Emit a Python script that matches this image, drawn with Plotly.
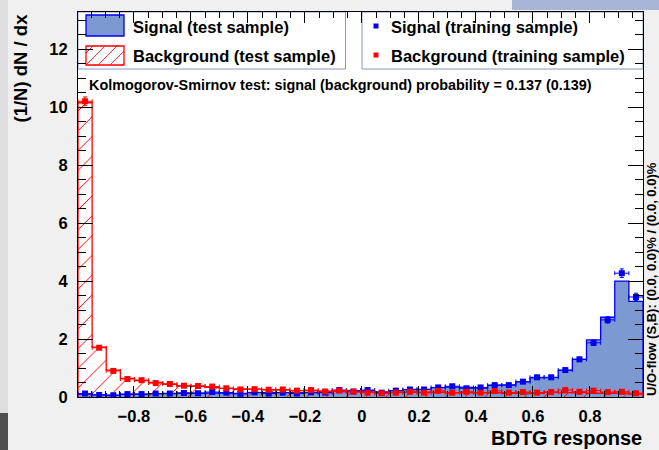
import numpy as np
import plotly.graph_objects as go

# ---------------- data ----------------
x_min, x_max, n_bins = -0.996, 0.986, 40

sig_test = [0.10, 0.07, 0.06, 0.09, 0.10, 0.11, 0.12, 0.13, 0.13, 0.15,
            0.14, 0.12, 0.15, 0.13, 0.14, 0.13, 0.15, 0.16, 0.21, 0.20,
            0.22, 0.18, 0.22, 0.25, 0.27, 0.32, 0.35, 0.33, 0.31, 0.40,
            0.42, 0.52, 0.66, 0.68, 0.92, 1.30, 1.97, 2.75, 4.00, 3.30]
sig_train = [0.12, 0.07, 0.06, 0.10, 0.10, 0.12, 0.12, 0.14, 0.13, 0.17,
             0.15, 0.11, 0.16, 0.12, 0.15, 0.12, 0.16, 0.15, 0.24, 0.19,
             0.24, 0.15, 0.22, 0.26, 0.26, 0.33, 0.37, 0.30, 0.33, 0.41,
             0.41, 0.53, 0.68, 0.68, 0.93, 1.30, 1.87, 2.66, 4.27, 3.45]
sig_train_err = [0.02, 0.02, 0.02, 0.02, 0.02, 0.02, 0.02, 0.02, 0.02, 0.02,
                 0.02, 0.02, 0.02, 0.02, 0.02, 0.02, 0.02, 0.02, 0.03, 0.03,
                 0.03, 0.03, 0.03, 0.03, 0.03, 0.03, 0.03, 0.03, 0.03, 0.04,
                 0.04, 0.04, 0.05, 0.05, 0.06, 0.07, 0.09, 0.11, 0.15, 0.13]

bkg_test = [10.15, 1.72, 0.93, 0.64, 0.57, 0.50, 0.44, 0.38, 0.37, 0.33,
            0.30, 0.28, 0.27, 0.25, 0.24, 0.22, 0.22, 0.20, 0.19, 0.18,
            0.17, 0.16, 0.17, 0.16, 0.15, 0.17, 0.14, 0.16, 0.14, 0.15,
            0.13, 0.15, 0.13, 0.17, 0.14, 0.16, 0.13, 0.15, 0.13, 0.10]
bkg_train = [10.20, 1.70, 0.90, 0.62, 0.58, 0.48, 0.45, 0.39, 0.38, 0.36,
             0.30, 0.26, 0.27, 0.25, 0.26, 0.22, 0.24, 0.19, 0.22, 0.18,
             0.15, 0.13, 0.15, 0.18, 0.15, 0.21, 0.15, 0.18, 0.15, 0.21,
             0.15, 0.17, 0.15, 0.17, 0.24, 0.18, 0.22, 0.17, 0.18, 0.13]
bkg_train_err = [0.15, 0.06, 0.04, 0.03, 0.03, 0.03, 0.03, 0.03, 0.03, 0.03,
                 0.02, 0.02, 0.02, 0.02, 0.02, 0.02, 0.02, 0.02, 0.02, 0.02,
                 0.02, 0.02, 0.02, 0.02, 0.02, 0.02, 0.02, 0.02, 0.02, 0.02,
                 0.02, 0.02, 0.02, 0.02, 0.02, 0.02, 0.02, 0.02, 0.02, 0.02]

x_ticks = [-0.8, -0.6, -0.4, -0.2, 0, 0.2, 0.4, 0.6, 0.8]
y_ticks = [0, 2, 4, 6, 8, 10, 12]

ks_text = "Kolmogorov-Smirnov test: signal (background) probability = 0.137 (0.139)"
uoflow_text = "U/O-flow (S,B): (0.0, 0.0)% / (0.0, 0.0)%"
legend_left = ["Signal (test sample)", "Background (test sample)"]
legend_right = ["Signal (training sample)", "Background (training sample)"]

# ---------------- geometry ----------------
W, H = 659, 450
L, R, T, B = 78, 643, 12, 397
edges = np.linspace(x_min, x_max, n_bins + 1)
centers = 0.5 * (edges[:-1] + edges[1:])
bw = edges[1] - edges[0]

def px(xp):
    return (xp - L) / (R - L)

def py(yp):
    return (B - yp) / (B - T)

def step_xy(vals):
    xs, ys = [edges[0]], [0]
    for i, v in enumerate(vals):
        xs += [edges[i], edges[i + 1]]
        ys += [v, v]
    xs.append(edges[-1]); ys.append(0)
    return xs, ys

BLUE = "#0000ee"
SIGFILL = "#7d99d1"
RED = "#ff0000"
FONT = "Liberation Sans"

fig = go.Figure()

# signal test filled histogram
fig.add_trace(go.Bar(x=centers, y=sig_test, width=bw,
                     marker=dict(color=SIGFILL, line=dict(width=0)),
                     showlegend=False, hoverinfo="skip"))
sx, sy = step_xy(sig_test)
fig.add_trace(go.Scatter(x=sx, y=sy, mode="lines", line=dict(color=BLUE, width=1.3),
                         showlegend=False, hoverinfo="skip"))
# background test hatched histogram
fig.add_trace(go.Bar(x=centers, y=bkg_test, width=bw,
                     marker=dict(color="rgba(0,0,0,0)", line=dict(width=0),
                                 pattern=dict(shape="/", fgcolor=RED, bgcolor="rgba(0,0,0,0)",
                                              size=14, solidity=0.07, fillmode="replace")),
                     showlegend=False, hoverinfo="skip"))
bx, by = step_xy(bkg_test)
fig.add_trace(go.Scatter(x=bx, y=by, mode="lines", line=dict(color=RED, width=1.3),
                         showlegend=False, hoverinfo="skip"))
# training points
fig.add_trace(go.Scatter(x=centers, y=sig_train, mode="markers",
                         marker=dict(symbol="square", size=6, color=BLUE),
                         error_y=dict(type="data", array=sig_train_err, color=BLUE, thickness=1, width=2),
                         error_x=dict(type="constant", value=bw / 2, color=BLUE, thickness=1, width=2),
                         showlegend=False, hoverinfo="skip"))
fig.add_trace(go.Scatter(x=centers, y=bkg_train, mode="markers",
                         marker=dict(symbol="square", size=6, color=RED),
                         error_y=dict(type="data", array=bkg_train_err, color=RED, thickness=1, width=2),
                         error_x=dict(type="constant", value=bw / 2, color=RED, thickness=1, width=2),
                         showlegend=False, hoverinfo="skip"))

shapes = []
# page decorations
shapes.append(dict(type="rect", xref="paper", yref="paper", x0=px(0), x1=px(8), y0=py(0), y1=py(413),
                   fillcolor="#dfdfe2", line=dict(width=0), layer="below"))
shapes.append(dict(type="rect", xref="paper", yref="paper", x0=px(0), x1=px(8), y0=py(413), y1=py(450),
                   fillcolor="#505050", line=dict(width=0), layer="below"))
shapes.append(dict(type="rect", xref="paper", yref="paper", x0=px(512), x1=px(659), y0=py(0), y1=py(10),
                   fillcolor="#a9b5d6", line=dict(width=0), layer="below"))
# legend boxes
BOXC = "#8a98b8"
for (a, b) in [(L, 345.5), (362, R)]:
    shapes.append(dict(type="rect", xref="paper", yref="paper", x0=px(a), x1=px(b), y0=py(69), y1=py(T),
                       fillcolor="white", line=dict(color=BOXC, width=1), layer="below"))
# signal swatch
shapes.append(dict(type="rect", xref="paper", yref="paper", x0=px(86), x1=px(124), y0=py(36), y1=py(15),
                   fillcolor=SIGFILL, line=dict(color=BLUE, width=1.3), layer="below"))
# background swatch with hatch
shapes.append(dict(type="rect", xref="paper", yref="paper", x0=px(86), x1=px(124), y0=py(65), y1=py(46),
                   fillcolor="white", line=dict(color=RED, width=1.3), layer="below"))
hx0, hx1, hy0, hy1 = 86, 124, 46, 65
for k in range(-3, 6):
    xa = hx0 + 12 * k
    pts = []
    for t in np.linspace(0, 60, 601):
        xx, yy = xa + t, hy1 - t
        if hx0 <= xx <= hx1 and hy0 <= yy <= hy1:
            pts.append((xx, yy))
    if len(pts) > 1:
        shapes.append(dict(type="line", xref="paper", yref="paper",
                           x0=px(pts[0][0]), y0=py(pts[0][1]), x1=px(pts[-1][0]), y1=py(pts[-1][1]),
                           line=dict(color=RED, width=0.8), layer="below"))
# marker swatches
for (cy, col) in [(26, BLUE), (55, RED)]:
    shapes.append(dict(type="rect", xref="paper", yref="paper", x0=px(373.5), x1=px(378.5),
                       y0=py(cy + 2.5), y1=py(cy - 2.5), fillcolor=col, line=dict(width=0), layer="below"))

annots = []
def txt(s, x, y, size, xanchor="left", yanchor="middle", angle=0):
    annots.append(dict(text=s, xref="paper", yref="paper", x=px(x), y=py(y), showarrow=False,
                       xanchor=xanchor, yanchor=yanchor, textangle=angle,
                       font=dict(family=FONT, size=size, color="black", weight="bold")))

txt(legend_left[0], 131, 27, 16.5)
txt(legend_left[1], 131, 56, 16.5)
txt(legend_right[0], 389, 27, 16.5)
txt(legend_right[1], 389, 56, 16.5)
txt(ks_text, 87, 85, 14.4)
txt("(1/N) dN / dx", 20, 12, 18.5, xanchor="center", yanchor="top", angle=-90)
txt("BDTG response", 644, 438, 20, xanchor="right")
txt(uoflow_text, 652, 398, 13, xanchor="center", yanchor="bottom", angle=-90)

axis_common = dict(showline=True, linecolor="black", linewidth=1, mirror="ticks",
                   showgrid=False, zeroline=False, ticks="inside", tickcolor="black",
                   tickfont=dict(family=FONT, size=16.5, color="black", weight="bold"))

fig.update_layout(
    width=W, height=H,
    margin=dict(l=L, r=W - R, t=T, b=H - B, pad=0),
    paper_bgcolor="#f0f0f0", plot_bgcolor="white",
    barmode="overlay", bargap=0,
    xaxis=dict(range=[x_min, x_max], tickvals=x_ticks, ticklen=11, tickwidth=1,
               ticklabelstandoff=4,
               minor=dict(dtick=0.05, tick0=0, ticklen=6, ticks="inside", tickcolor="black"),
               **axis_common),
    yaxis=dict(range=[0, 13.28], tickvals=y_ticks, ticklen=15, tickwidth=1,
               ticklabelstandoff=6,
               minor=dict(dtick=0.5, tick0=0, ticklen=8, ticks="inside", tickcolor="black"),
               **axis_common),
    shapes=shapes, annotations=annots, showlegend=False,
)

fig.write_html("out.html")
